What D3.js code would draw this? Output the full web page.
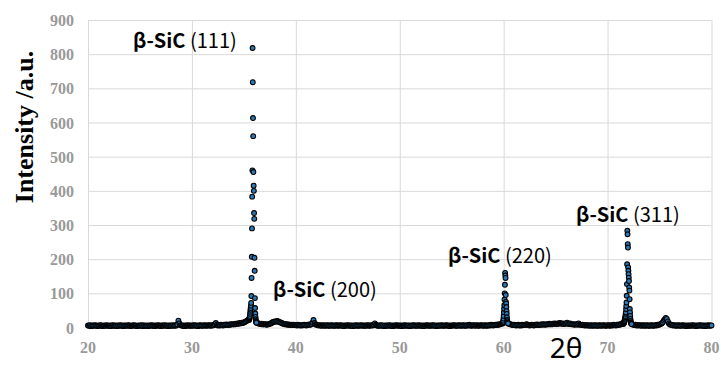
<!DOCTYPE html>
<html>
<head>
<meta charset="utf-8">
<title>XRD beta-SiC</title>
<script src="https://d3js.org/d3.v7.min.js"></script>
<style>
  body { margin: 0; background: #fff; }
  .grid line { stroke: #d9d9d9; stroke-width: 1; }
  .tick-label { font-family: "Liberation Serif", "Times New Roman", serif; font-weight: bold; font-size: 16px; fill: #999; }
  .peak-label { font-family: "Noto Sans CJK JP", "Noto Sans", sans-serif; font-size: 20px; fill: #000; }
</style>
</head>
<body>
<svg id="chart" width="721" height="365"></svg>
<script>
// axis ticks
var xTicks = [20, 30, 40, 50, 60, 70, 80];
var yTicks = [0, 100, 200, 300, 400, 500, 600, 700, 800, 900];

// scan 20-80 deg, step 0.1 (null = covered by the fine peak scans below)
var bgStart = 20, bgStep = 0.1;
var bgIntensity = [
  6,5,7,4,6,5,6,7,5,4,6,5,7,6,4,5,6,5,7,5,
  5,6,4,6,7,5,5,6,4,6,5,7,5,6,4,6,5,6,5,7,
  6,4,5,6,7,5,6,4,5,6,5,6,7,4,6,5,5,6,4,6,
  5,7,5,6,4,6,5,6,7,5,4,6,6,5,7,5,6,4,6,5,
  6,5,7,5,6,6,9,20,12,7,6,5,6,4,6,5,7,5,6,5,
  6,5,7,6,5,6,4,6,7,5,6,5,7,6,5,6,7,6,5,7,
  6,7,9,13,8,6,7,6,8,7,6,8,7,9,8,7,9,8,10,9,
  10,9,11,10,12,11,13,12,14,13,15,16,18,20,22,null,null,null,null,null,
  null,null,null,13,12,11,10,11,9,10,9,10,8,9,10,11,12,14,16,17,
  18,17,19,18,16,15,14,12,11,10,9,10,8,9,8,7,8,7,8,7,
  7,6,8,7,6,7,6,7,8,7,6,8,7,9,8,10,14,22,13,9,
  8,7,6,7,6,5,7,6,5,6,7,5,6,5,7,6,5,6,5,7,
  6,5,6,7,5,6,4,6,5,6,7,5,6,5,6,4,6,5,7,5,
  6,5,6,7,5,6,5,6,5,7,6,5,6,7,6,8,12,8,6,5,
  6,5,7,5,6,4,6,5,6,5,7,5,6,4,6,5,6,7,5,6,
  5,6,4,6,5,7,5,6,5,6,4,6,5,7,6,5,6,5,7,5,
  6,5,6,4,6,5,7,6,5,6,5,6,7,5,6,4,6,5,6,5,
  7,5,6,5,6,7,5,6,4,6,5,6,7,6,5,6,5,7,6,5,
  6,7,5,6,5,7,6,8,6,5,6,7,6,5,7,6,5,6,7,6,
  6,5,7,6,5,6,7,6,8,7,6,7,8,7,9,8,9,10,11,null,
  null,null,null,null,null,11,10,9,8,7,8,7,6,7,8,6,7,6,8,7,
  7,8,10,8,7,6,7,8,7,6,8,7,9,8,7,8,9,8,10,9,
  8,9,10,9,11,10,9,11,10,12,11,10,12,11,13,12,11,12,10,11,
  12,14,11,10,12,10,9,10,8,9,10,8,12,9,8,7,8,7,6,7,
  6,7,6,5,7,6,5,6,7,5,6,5,7,6,5,6,7,6,5,6,
  6,7,5,6,7,6,8,7,6,8,7,9,8,10,12,null,null,null,null,null,
  null,null,null,null,9,8,7,8,6,7,6,7,6,5,7,6,5,6,7,5,
  6,5,7,6,5,6,7,6,8,7,9,10,12,15,20,24,28,25,18,12,
  9,8,7,6,7,6,5,6,7,5,6,5,7,6,5,6,4,6,5,6,
  5,6,7,5,6,4,6,5,6,7,5,6,5,6,4,6,5,7,5,6,
  6
];

// fine scans over the three strong reflections, step 0.02
var peakStep = 0.02;
var p111Start = 35.50;
var p111 = [22,24,27,30,34,40,46,52,57,64,72,92,145,207,290,383,460,818,718,613,
            560,455,415,400,335,318,204,166,86,57,41,31,24,19,16,14];
var p220Start = 59.90;
var p220 = [12,14,16,20,26,34,45,55,65,82,100,125,160,152,145,95,75,70,60,48,
            40,30,22,18,15,13,12];
var p311Start = 71.50;
var p311 = [10,11,12,13,14,16,18,20,23,26,30,34,40,44,54,63,73,93,127,185,
            283,273,244,234,176,166,156,146,136,117,108,83,54,44,34,25,19,15,13,11,10];

// peak labels
var labelNames = ["(111)", "(200)", "(220)", "(311)"];
var labelPos = [[133, 48], [273, 297], [448, 263], [576, 222]];

var svg = d3.select("#chart");
var margin = {left: 88, right: 9.5, top: 20, bottom: 37.5};
var width = 721, height = 365;

var x = d3.scaleLinear().domain([20, 80]).range([margin.left, width - margin.right]);
var y = d3.scaleLinear().domain([0, 900]).range([height - margin.bottom, margin.top]);

// gridlines
svg.append("g").attr("class", "grid")
  .attr("transform", "translate(" + margin.left + ",0)")
  .call(d3.axisLeft(y).tickValues(yTicks).tickSize(-(x(80) - x(20))).tickFormat(""))
  .call(function(g) { g.select(".domain").remove(); });
svg.append("g").attr("class", "grid")
  .attr("transform", "translate(0," + y(0) + ")")
  .call(d3.axisBottom(x).tickValues(xTicks).tickSize(-(y(0) - y(900))).tickFormat(""))
  .call(function(g) { g.select(".domain").remove(); });

// tick labels
svg.append("g").selectAll("text")
  .data(yTicks).enter().append("text")
    .attr("class", "tick-label")
    .attr("x", 74)
    .attr("y", function(d) { return y(d) + 6; })
    .attr("text-anchor", "end")
    .text(function(d) { return d; });
svg.append("g").selectAll("text")
  .data(xTicks).enter().append("text")
    .attr("class", "tick-label")
    .attr("x", function(d) { return x(d); })
    .attr("y", 353)
    .attr("text-anchor", "middle")
    .text(function(d) { return d; });

// axis titles
svg.append("text")
  .attr("transform", "translate(33,127) rotate(-90)")
  .attr("text-anchor", "middle")
  .style("font-family", "'Liberation Serif', 'Times New Roman', serif")
  .style("font-weight", "bold")
  .style("font-size", "26px")
  .text("Intensity /a.u.");
svg.append("text")
  .attr("x", 566).attr("y", 358)
  .attr("text-anchor", "middle")
  .style("font-family", "'Noto Sans', sans-serif")
  .style("font-size", "28px")
  .text("2θ");

// points
var points = [];
function addScan(start, step, vals) {
  vals.forEach(function(v, i) {
    if (v != null) points.push([start + i * step, v]);
  });
}
addScan(bgStart, bgStep, bgIntensity);
addScan(p111Start, peakStep, p111);
addScan(p220Start, peakStep, p220);
addScan(p311Start, peakStep, p311);

svg.append("g").selectAll("circle")
  .data(points).enter().append("circle")
    .attr("cx", function(d) { return x(d[0]); })
    .attr("cy", function(d) { return y(d[1]); })
    .attr("r", 2.4)
    .attr("fill", "#2a7ab8")
    .attr("stroke", "#000")
    .attr("stroke-width", 1.1);

// peak labels
var lab = svg.append("g").selectAll("text")
  .data(labelNames).enter().append("text")
    .attr("class", "peak-label")
    .attr("x", function(d, i) { return labelPos[i][0]; })
    .attr("y", function(d, i) { return labelPos[i][1]; });
lab.append("tspan").style("font-weight", "bold").text("β-SiC");
lab.append("tspan").text(function(d) { return " " + d; });
</script>
</body>
</html>
